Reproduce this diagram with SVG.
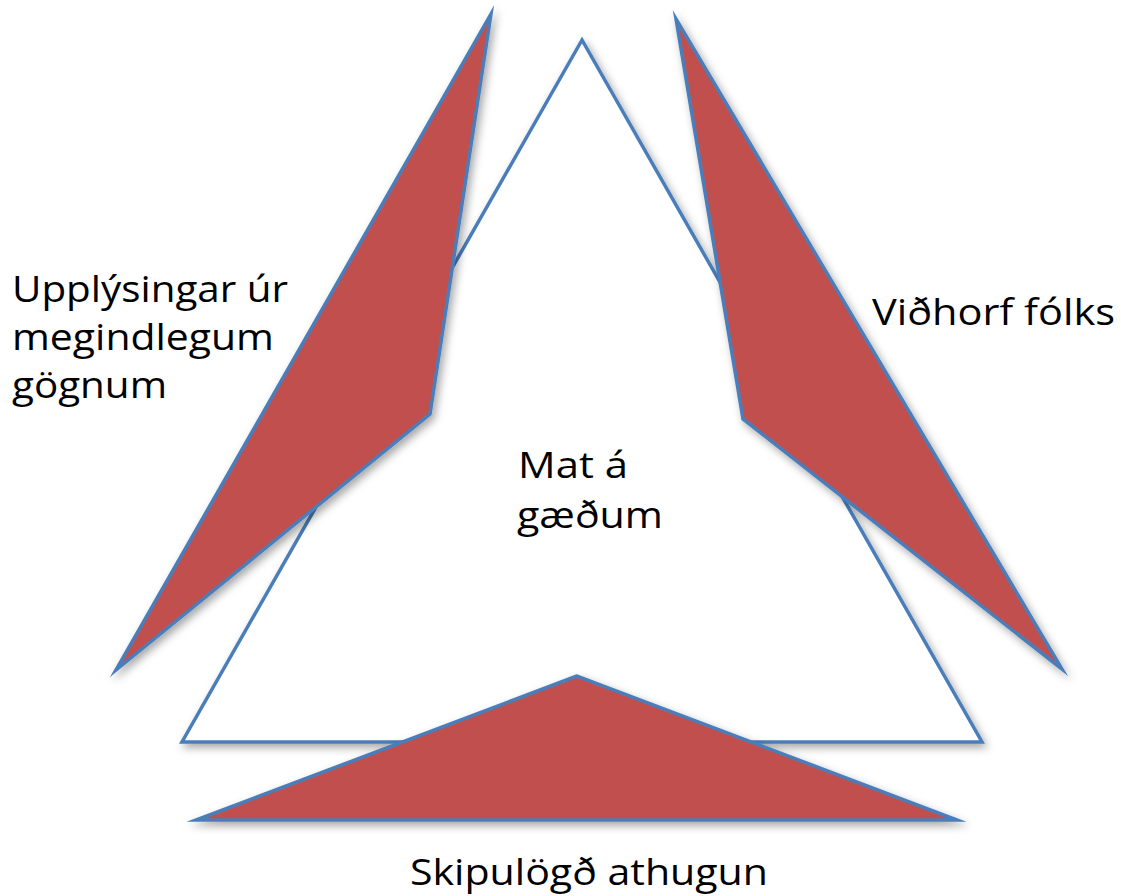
<svg xmlns="http://www.w3.org/2000/svg" width="1121" height="896" viewBox="0 0 1121 896">
<style>
.tri{stroke:#4a7ebb;stroke-width:3.5;stroke-linejoin:miter;stroke-miterlimit:20;filter:url(#sh)}
.white{fill:#ffffff}
.red{fill:#c0504d}
.lbl{font-family:"Open Sans","Noto Sans","Liberation Sans",sans-serif;font-size:37px;fill:#000}
</style>
<defs>
<filter id="sh" x="-20%" y="-20%" width="140%" height="140%">
<feDropShadow dx="3" dy="4" stdDeviation="4" flood-color="#000" flood-opacity="0.35"/>
</filter>
</defs>
<rect width="1121" height="896" fill="#ffffff"/>
<g id="center">
<polygon class="tri white" points="582,40 182,742 982,742"/>
<text class="lbl" x="518" y="478" textLength="110" lengthAdjust="spacingAndGlyphs">Mat á</text>
<text class="lbl" x="517" y="528" textLength="146" lengthAdjust="spacingAndGlyphs">gæðum</text>
</g>
<g id="left">
<polygon class="tri red" points="491,14 430,414 116,670"/>
<text class="lbl" x="12" y="302" textLength="276" lengthAdjust="spacingAndGlyphs">Upplýsingar úr</text>
<text class="lbl" x="12" y="350" textLength="262" lengthAdjust="spacingAndGlyphs">megindlegum</text>
<text class="lbl" x="12" y="398" textLength="155" lengthAdjust="spacingAndGlyphs">gögnum</text>
</g>
<g id="right">
<polygon class="tri red" points="676,19 743,419 1062,669"/>
<text class="lbl" x="872" y="325" textLength="243" lengthAdjust="spacingAndGlyphs">Viðhorf fólks</text>
</g>
<g id="bottom">
<polygon class="tri red" points="577,676 196,820 957,820"/>
<text class="lbl" x="410" y="885" textLength="358" lengthAdjust="spacingAndGlyphs">Skipulögð athugun</text>
</g>
<g id="connectors"></g>
</svg>
